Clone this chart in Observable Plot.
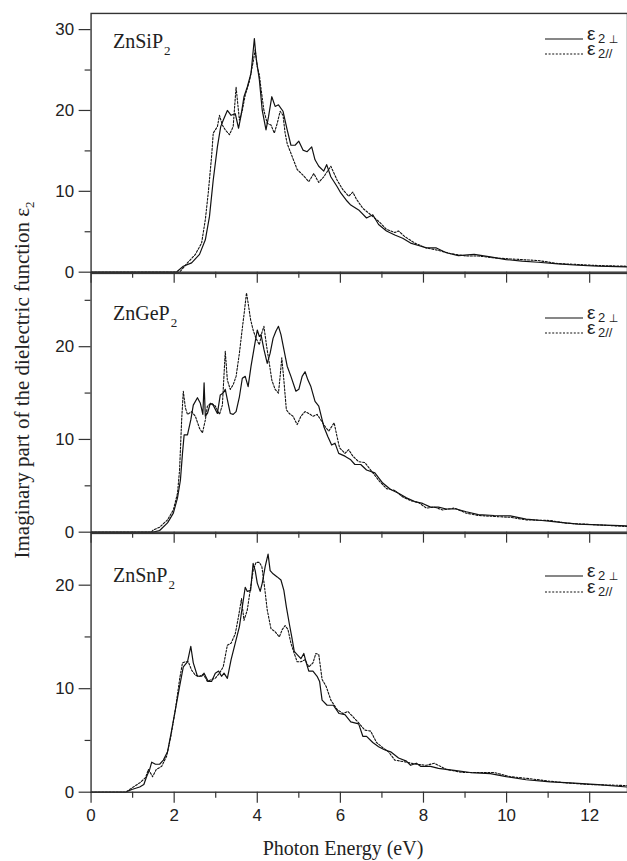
<!DOCTYPE html>
<html>
<head>
<meta charset="utf-8">
<script src="https://cdn.jsdelivr.net/npm/d3@7"></script>
<script src="https://cdn.jsdelivr.net/npm/@observablehq/plot@0.6"></script>
<style>
  html, body { margin: 0; padding: 0; background: #fff; }
  #wrap { position: relative; width: 627px; height: 861px; overflow: hidden; background: #fff; }
  .panel { position: absolute; left: 0; }
  .serif { font-family: "Liberation Serif", "Times New Roman", serif; color: #222; }
  .name { position: absolute; font-size: 20px; line-height: 20px; white-space: nowrap; }
  .name sub { font-size: 13px; vertical-align: -7px; margin-left: 1px; line-height: 0; }
  .legsym { position: absolute; display: block; }
  .legrow { position: absolute; height: 12px; font-family: "Liberation Sans", Arial, sans-serif; color: #222; white-space: nowrap; }
  .legrow .eps { position: absolute; left: 0; top: -5px; display: block; height: 12px; line-height: 12px; font-size: 19px; overflow: visible; }
  .legrow .sb { position: absolute; left: 11px; top: 1px; display: block; height: 10px; line-height: 10px; font-size: 13px; overflow: visible; }
  .perp { font-family: "DejaVu Sans", "Liberation Sans", sans-serif; font-size: 11px; color: #222; }
  #ylab { position: absolute; left: 22px; top: 380px; transform: translate(-50%, -50%) rotate(-90deg); font-size: 21px; white-space: nowrap; }
  #ylab sub { font-size: 13px; vertical-align: -5px; line-height: 0; }
  #xlab { position: absolute; left: 343px; top: 848px; transform: translate(-50%, -50%); font-size: 20px; white-space: nowrap; }
</style>
</head>
<body>
<div id="wrap"></div>
<script>
// ---------------- data (photon energy eV, epsilon_2) ----------------
const xMajorTicks = [0, 2, 4, 6, 8, 10, 12];
const xMinorTicks = [1, 3, 5, 7, 9, 11];
const materials = ["ZnSiP", "ZnGeP", "ZnSnP"];
const yMajorTicks = [[0, 10, 20, 30], [0, 10, 20], [0, 10, 20]];
const yMinorTicks = [[5, 15, 25], [5, 15, 25], [5, 15]];
const yMaxima = [32, 27.9, 25];

const znSiP2Perp = [[0,0],[2.05,0],[2.22,0.74],[2.42,1.15],[2.61,2.2],[2.75,4.0],[2.85,6.9],[2.94,11.4],[3.04,15.5],[3.12,18],[3.18,18.8],[3.28,20],[3.37,19.4],[3.47,19.6],[3.55,17.8],[3.61,19.4],[3.68,21.7],[3.76,22.9],[3.85,24.6],[3.93,28.9],[3.97,26.6],[4.05,23.8],[4.12,20],[4.21,17.6],[4.27,19.2],[4.35,21.7],[4.43,20.5],[4.51,20.7],[4.62,19.9],[4.72,17.6],[4.81,15.7],[4.91,15.7],[5.0,16.2],[5.1,15.1],[5.2,14.9],[5.31,15.5],[5.39,13.9],[5.48,13.1],[5.6,12.5],[5.67,13.3],[5.77,11.8],[5.92,10.6],[6.01,9.8],[6.16,8.8],[6.25,8.3],[6.44,7.7],[6.63,6.7],[6.78,7.1],[6.92,5.9],[7.11,5.1],[7.31,4.6],[7.5,4.2],[7.69,3.6],[7.88,3.3],[8.07,3.0],[8.31,3.0],[8.55,2.4],[8.84,2.05],[9.22,2.2],[9.61,1.9],[9.99,1.56],[10.37,1.36],[10.76,1.23],[11.24,1.03],[11.72,0.86],[12.2,0.74],[12.9,0.66]];
const znSiP2Par = [[0,0],[2.13,0],[2.32,1.15],[2.51,2.2],[2.66,3.6],[2.75,6.5],[2.82,9.8],[2.9,14.3],[2.94,17.2],[3.04,18],[3.09,19.4],[3.16,18.2],[3.23,17.6],[3.33,17],[3.42,18],[3.49,22.9],[3.57,18.8],[3.64,20],[3.71,21.9],[3.81,23.6],[3.9,26],[3.95,27.5],[4.0,25.4],[4.05,24.4],[4.09,22.7],[4.16,20],[4.24,18.4],[4.33,18.2],[4.41,17.2],[4.48,18.4],[4.55,19.9],[4.62,19.4],[4.67,17.2],[4.72,15.9],[4.81,14.7],[4.96,12.7],[5.1,12],[5.24,11.2],[5.36,12.2],[5.48,11.1],[5.6,11.8],[5.77,13.1],[5.92,11.4],[6.06,10.2],[6.2,9.4],[6.3,9.9],[6.39,9.0],[6.54,7.9],[6.73,7.1],[6.92,6.3],[7.11,5.3],[7.31,4.9],[7.4,5.1],[7.55,4.4],[7.79,3.6],[8.07,3.0],[8.36,2.7],[8.65,2.3],[9.03,2.0],[9.32,2.0],[9.7,1.77],[10.09,1.64],[10.76,1.44],[11.24,1.07],[11.72,0.95],[12.2,0.82],[12.9,0.74]];

const znGeP2Perp = [[0,0],[1.5,0],[1.65,0.18],[1.84,1.0],[1.98,2.05],[2.08,3.7],[2.15,5.6],[2.2,8.5],[2.24,10.5],[2.32,10.5],[2.4,12.1],[2.46,13.7],[2.56,14.5],[2.63,13.9],[2.69,12.7],[2.72,16.1],[2.75,12.5],[2.8,12.8],[2.87,13.9],[2.94,13.7],[3.04,12.8],[3.11,14.8],[3.18,15],[3.23,15.4],[3.28,14.3],[3.35,12.8],[3.42,12.7],[3.49,13.0],[3.57,14.6],[3.64,16.6],[3.71,16.8],[3.78,15.7],[3.85,17.9],[3.93,20],[4.0,21.8],[4.05,21.1],[4.09,21.3],[4.16,19.7],[4.24,18.2],[4.31,19.3],[4.38,20.9],[4.45,21.7],[4.51,22.2],[4.57,21.3],[4.64,19.7],[4.72,17.9],[4.81,16.8],[4.93,15.2],[5.0,15.4],[5.08,16.8],[5.15,17.3],[5.22,16.4],[5.29,15.7],[5.39,14.1],[5.48,13.6],[5.6,11.4],[5.7,10.3],[5.79,9.4],[5.87,9.6],[5.96,8.5],[6.11,8.2],[6.25,7.8],[6.35,7.3],[6.49,7.3],[6.63,6.7],[6.83,6.4],[7.02,5.3],[7.21,4.6],[7.4,4.2],[7.59,3.7],[7.79,3.3],[7.98,3.1],[8.17,2.7],[8.36,2.7],[8.55,2.5],[8.79,2.5],[9.03,2.2],[9.32,1.9],[9.7,1.8],[10.09,1.76],[10.47,1.4],[10.85,1.26],[11.24,1.08],[11.72,0.86],[12.2,0.79],[12.9,0.68]];
const znGeP2Par = [[0,0],[1.45,0],[1.5,0.25],[1.65,0.54],[1.84,1.33],[1.98,2.4],[2.08,4.2],[2.13,6.7],[2.18,12.1],[2.22,15.2],[2.27,13.4],[2.32,12.7],[2.42,13.0],[2.51,12.5],[2.61,11.2],[2.68,10.7],[2.75,12.1],[2.8,13.6],[2.9,13.9],[2.99,13.6],[3.09,12.7],[3.16,13.7],[3.23,19.5],[3.28,16.4],[3.35,15.4],[3.42,15.9],[3.49,16.8],[3.57,19.3],[3.64,22.0],[3.69,23.8],[3.74,25.8],[3.78,24.7],[3.84,22.9],[3.9,21.8],[3.97,20.9],[4.05,20.2],[4.11,21.5],[4.16,22.2],[4.22,20.2],[4.29,18.2],[4.35,16.4],[4.43,15.4],[4.51,15.0],[4.55,16.8],[4.59,18.8],[4.64,16.4],[4.7,13.2],[4.77,12.8],[4.86,12.5],[4.96,11.6],[5.05,12.5],[5.15,13.0],[5.24,12.8],[5.34,12.5],[5.44,12.7],[5.53,12.1],[5.63,11.4],[5.72,10.9],[5.85,11.8],[5.92,10.3],[5.98,9.1],[6.11,8.5],[6.2,8.9],[6.3,8.2],[6.44,7.6],[6.59,7.5],[6.73,6.7],[6.92,5.6],[7.11,4.7],[7.31,4.5],[7.5,3.8],[7.69,3.4],[7.88,3.2],[8.07,2.6],[8.26,2.7],[8.46,2.4],[8.74,2.6],[9.03,2.05],[9.32,1.8],[9.7,1.7],[10.09,1.6],[10.47,1.33],[11.05,1.26],[11.43,0.97],[11.91,0.86],[12.9,0.61]];

const znSnP2Perp = [[0,0],[0.83,0],[0.98,0.26],[1.17,0.5],[1.27,0.74],[1.34,1.54],[1.41,2.2],[1.46,2.9],[1.55,2.7],[1.65,2.7],[1.74,3.1],[1.84,3.9],[1.94,6.0],[2.03,8.0],[2.13,10.2],[2.22,12.1],[2.32,12.6],[2.4,14.1],[2.46,12.5],[2.56,11.2],[2.66,11.2],[2.72,11.5],[2.82,10.7],[2.9,10.7],[2.99,11.5],[3.07,11.7],[3.14,11.2],[3.2,11.5],[3.28,11.0],[3.37,12.8],[3.47,14.4],[3.57,16.0],[3.64,17.9],[3.71,19.8],[3.76,19.4],[3.84,19.5],[3.9,22.1],[3.95,21.4],[4.0,20.2],[4.07,19.4],[4.12,20.2],[4.19,21.8],[4.26,23.0],[4.31,21.4],[4.38,21.1],[4.48,20.8],[4.57,20.5],[4.64,19.5],[4.7,17.9],[4.77,16.3],[4.83,15.0],[4.89,13.6],[4.96,13.3],[5.05,12.9],[5.12,13.4],[5.18,12.5],[5.24,11.7],[5.34,11.7],[5.44,11.2],[5.5,10.7],[5.56,8.9],[5.68,8.4],[5.83,8.4],[5.97,7.6],[6.11,7.5],[6.25,6.8],[6.44,6.6],[6.54,5.4],[6.63,5.4],[6.78,4.8],[6.92,4.4],[7.06,4.1],[7.21,3.9],[7.4,3.3],[7.59,3.0],[7.69,2.6],[7.83,2.8],[7.93,2.5],[8.17,2.5],[8.36,2.3],[8.74,2.1],[9.13,1.9],[9.61,1.8],[9.99,1.5],[10.47,1.2],[11.05,1.0],[11.53,0.9],[12.2,0.74],[12.9,0.5]];
const znSnP2Par = [[0,0],[0.83,0],[0.98,0.4],[1.17,0.9],[1.31,1.4],[1.38,2.2],[1.48,1.5],[1.57,2.2],[1.7,2.5],[1.82,3.5],[1.92,5.4],[2.03,8.0],[2.13,10.9],[2.2,12.5],[2.27,12.6],[2.34,12.6],[2.42,11.8],[2.51,11.3],[2.61,11.2],[2.7,11.4],[2.8,10.7],[2.9,10.9],[2.99,11.0],[3.09,11.5],[3.18,12.1],[3.28,14.2],[3.37,14.4],[3.47,15.3],[3.55,17.0],[3.62,18.7],[3.68,16.6],[3.76,17.6],[3.84,19.8],[3.9,21.4],[3.97,22.2],[4.05,22.2],[4.11,21.8],[4.17,20.0],[4.24,17.6],[4.33,15.8],[4.43,15.5],[4.53,15.0],[4.6,15.7],[4.67,16.1],[4.74,15.7],[4.81,14.4],[4.89,13.4],[4.96,12.6],[5.05,12.6],[5.15,12.8],[5.24,12.1],[5.34,12.5],[5.41,13.4],[5.48,13.3],[5.56,10.9],[5.66,10.2],[5.77,8.9],[5.92,8.0],[6.06,7.6],[6.18,7.8],[6.3,7.3],[6.44,6.7],[6.59,6.0],[6.73,5.9],[6.87,4.8],[7.02,4.3],[7.16,3.9],[7.31,3.1],[7.45,3.0],[7.59,2.9],[7.83,2.7],[8.07,2.6],[8.26,2.8],[8.55,2.2],[8.94,1.9],[9.32,1.9],[9.7,1.9],[10.09,1.5],[10.56,1.3],[11.05,1.06],[11.43,0.9],[12.01,0.74],[12.9,0.64]];

const seriesPerp = [znSiP2Perp, znGeP2Perp, znSnP2Perp];
const seriesPar = [znSiP2Par, znGeP2Par, znSnP2Par];
const legendSubs = ["2 <span class=\"perp\">⊥</span>", "2//"];

// ---------------- layout ----------------
const wrap = document.getElementById("wrap");
const plotTops = [13, 273, 533];      // top of each plot frame in the page
const plotH = 260;
const legendRows = [[39, 54], [318, 333], [576, 592]];
const nameTops = [31, 303, 565];

function toRows(arr) { return arr.map(([e, v]) => ({e, v})); }

for (let i = 0; i < 3; i++) {
  const last = i === 2;
  const mTop = 13, mBottom = last ? 45 : 16;
  const svg = Plot.plot({
    width: 630,
    height: mTop + plotH + mBottom,
    marginLeft: 91,
    marginRight: 0,
    marginTop: mTop,
    marginBottom: mBottom,
    x: {domain: [0, 12.91]},
    y: {domain: [0, yMaxima[i]]},
    style: {background: "transparent", overflow: "visible", fontFamily: "'Liberation Sans', Arial, sans-serif", fontSize: "17px", color: "#222"},
    marks: [
      Plot.axisY({ticks: yMajorTicks[i], tickSize: 12, tickPadding: 5, label: null, stroke: "#333", strokeWidth: 1.2}),
      Plot.axisY({ticks: yMinorTicks[i], tickSize: 6, tickFormat: () => "", label: null, stroke: "#333", strokeWidth: 1.2}),
      Plot.axisX({ticks: xMajorTicks, tickSize: 11, tickPadding: 6, tickFormat: last ? (d => String(d)) : (() => ""), label: null, stroke: "#333", strokeWidth: 1.2}),
      Plot.axisX({ticks: xMinorTicks, tickSize: 6, tickFormat: () => "", label: null, stroke: "#333", strokeWidth: 1.2}),
      Plot.line(toRows(seriesPar[i]), {x: "e", y: "v", stroke: "#111", strokeWidth: 1.1, strokeDasharray: "2,1.6"}),
      Plot.line(toRows(seriesPerp[i]), {x: "e", y: "v", stroke: "#111", strokeWidth: 1.2}),
      Plot.frame({stroke: "#333", strokeWidth: 1.4})
    ]
  });
  svg.classList.add("panel");
  svg.style.top = (plotTops[i] - mTop) + "px";
  svg.style.position = "absolute";
  wrap.appendChild(svg);

  // material name
  const nm = document.createElement("div");
  nm.className = "name serif";
  nm.style.left = "113px";
  nm.style.top = nameTops[i] + "px";
  nm.innerHTML = materials[i] + "<sub>2</sub>";
  wrap.appendChild(nm);

  // legend: line samples
  const [r0, r1] = legendRows[i];
  const sym = document.createElementNS("http://www.w3.org/2000/svg", "svg");
  sym.setAttribute("class", "legsym");
  sym.setAttribute("width", "38");
  sym.setAttribute("height", String(r1 - r0 + 4));
  sym.style.left = "545px";
  sym.style.top = (r0 - 2) + "px";
  sym.innerHTML = `<line x1="0" x2="38" y1="2" y2="2" stroke="#111" stroke-width="1.2"/>` +
                  `<line x1="0" x2="38" y1="${r1 - r0 + 2}" y2="${r1 - r0 + 2}" stroke="#111" stroke-width="1.1" stroke-dasharray="2,1.6"/>`;
  wrap.appendChild(sym);

  // legend: labels, one compact row per series
  [r0, r1].forEach((ry, k) => {
    const row = document.createElement("div");
    row.className = "legrow";
    row.style.left = "587px";
    row.style.top = (ry - 6) + "px";
    row.innerHTML = `<span class="eps">ε</span><span class="sb">${legendSubs[k]}</span>`;
    wrap.appendChild(row);
  });
}

const yl = document.createElement("div");
yl.id = "ylab"; yl.className = "serif";
yl.innerHTML = "Imaginary part of the dielectric function ε<sub>2</sub>";
wrap.appendChild(yl);

const xl = document.createElement("div");
xl.id = "xlab"; xl.className = "serif";
xl.textContent = "Photon Energy (eV)";
wrap.appendChild(xl);
</script>
</body>
</html>
